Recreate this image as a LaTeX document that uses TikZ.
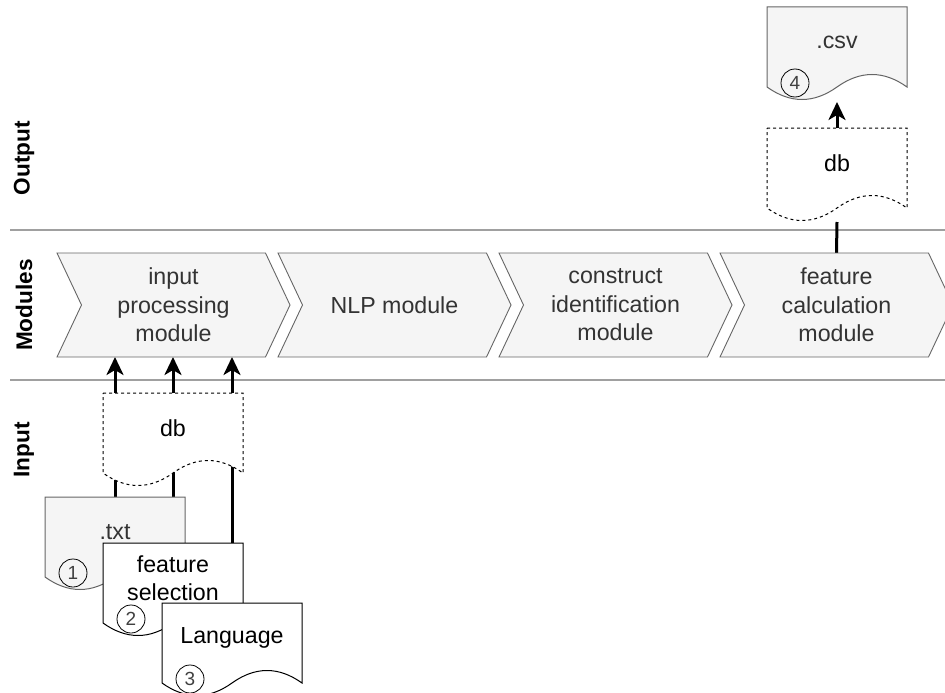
\documentclass[tikz,border=0pt]{standalone}
\usepackage{fontspec}
\setmainfont{Liberation Sans}
\usetikzlibrary{arrows.meta,calc,backgrounds}
\definecolor{boxfill}{HTML}{F5F5F5}
\definecolor{boxline}{HTML}{666666}
\definecolor{txtgray}{HTML}{333333}
\definecolor{sepgray}{HTML}{A0A0A0}

\makeatletter
\pgfdeclareshape{docshape}{%
  \inheritsavedanchors[from=rectangle]%
  \inheritanchorborder[from=rectangle]%
  \inheritanchor[from=rectangle]{center}%
  \inheritanchor[from=rectangle]{north}%
  \inheritanchor[from=rectangle]{south}%
  \inheritanchor[from=rectangle]{east}%
  \inheritanchor[from=rectangle]{west}%
  \inheritanchor[from=rectangle]{north east}%
  \inheritanchor[from=rectangle]{north west}%
  \inheritanchor[from=rectangle]{south east}%
  \inheritanchor[from=rectangle]{south west}%
  \backgroundpath{%
    \southwest \edef\dxa{\the\pgf@x}\edef\dya{\the\pgf@y}%
    \northeast \edef\dxb{\the\pgf@x}\edef\dyb{\the\pgf@y}%
    \pgfmathsetlengthmacro\dyw{\dya-10pt}%
    \pgfmathsetlengthmacro\dxm{(\dxa+\dxb)/2}%
    \pgfmathsetlengthmacro\dxr{\dxa+0.75*(\dxb-\dxa)}%
    \pgfmathsetlengthmacro\dxl{\dxa+0.25*(\dxb-\dxa)}%
    \pgfmathsetlengthmacro\dyu{\dyw+25pt}%
    \pgfmathsetlengthmacro\dyd{\dyw-25pt}%
    \pgfpathmoveto{\pgfqpoint{\dxa}{\dyb}}%
    \pgfpathlineto{\pgfqpoint{\dxb}{\dyb}}%
    \pgfpathlineto{\pgfqpoint{\dxb}{\dyw}}%
    \pgfpathquadraticcurveto{\pgfqpoint{\dxr}{\dyu}}{\pgfqpoint{\dxm}{\dyw}}%
    \pgfpathquadraticcurveto{\pgfqpoint{\dxl}{\dyd}}{\pgfqpoint{\dxa}{\dyw}}%
    \pgfpathclose
  }%
}
\pgfdeclareshape{chevshape}{%
  \inheritsavedanchors[from=rectangle]%
  \inheritanchorborder[from=rectangle]%
  \inheritanchor[from=rectangle]{center}%
  \inheritanchor[from=rectangle]{north}%
  \inheritanchor[from=rectangle]{south}%
  \inheritanchor[from=rectangle]{east}%
  \inheritanchor[from=rectangle]{west}%
  \inheritanchor[from=rectangle]{north east}%
  \inheritanchor[from=rectangle]{north west}%
  \inheritanchor[from=rectangle]{south east}%
  \inheritanchor[from=rectangle]{south west}%
  \backgroundpath{%
    \southwest \edef\cxa{\the\pgf@x}\edef\cya{\the\pgf@y}%
    \northeast \edef\cxb{\the\pgf@x}\edef\cyb{\the\pgf@y}%
    \pgfmathsetlengthmacro\cym{(\cya+\cyb)/2}%
    \pgfmathsetlengthmacro\cxd{\cxb-24.5pt}%
    \pgfmathsetlengthmacro\cxe{\cxa+24.5pt}%
    \pgfpathmoveto{\pgfqpoint{\cxa}{\cyb}}%
    \pgfpathlineto{\pgfqpoint{\cxd}{\cyb}}%
    \pgfpathlineto{\pgfqpoint{\cxb}{\cym}}%
    \pgfpathlineto{\pgfqpoint{\cxd}{\cya}}%
    \pgfpathlineto{\pgfqpoint{\cxa}{\cya}}%
    \pgfpathlineto{\pgfqpoint{\cxe}{\cym}}%
    \pgfpathclose
  }%
}
\makeatother

\tikzset{
  module/.style={shape=chevshape, draw=boxline, fill=boxfill, line width=0.9pt,
    minimum width=233pt, minimum height=104pt, inner sep=0pt, outer sep=0pt,
    align=center, text=txtgray, font=\fontsize{23.2}{28.5}\selectfont},
  docbase/.style={shape=docshape, minimum width=140pt, minimum height=70pt,
    inner sep=0pt, outer sep=0pt, align=center,
    font=\fontsize{23.2}{28}\selectfont, line width=1pt},
  graydoc/.style={docbase, draw=boxline, fill=boxfill, text=txtgray},
  plaindoc/.style={docbase, draw=black, fill=white, text=black},
  dbdoc/.style={docbase, draw=black, fill=white, text=black, dash pattern=on 3pt off 3pt},
  numcirc/.style={circle, draw=black, line width=0.8pt, minimum size=28pt,
    inner sep=0pt, font=\fontsize{19}{19}\selectfont, text=black!75},
  lanelabel/.style={rotate=90, font=\bfseries\fontsize{22.6}{26}\selectfont},
  sepline/.style={draw=sepgray, line width=1.3pt},
  flow/.style={line width=3pt, -{Stealth[length=18pt,width=17pt,inset=5pt]}},
  flowplain/.style={line width=3pt},
}

\begin{document}
\begin{tikzpicture}[x=1pt,y=-1pt]
\useasboundingbox (0,0) rectangle (945,693);

% lane labels
\node[lanelabel] (lout) at (24,158) {Output};
\node[lanelabel] (lmod) at (24,305) {Modules};
\node[lanelabel] (lin)  at (24,450) {Input};

% modules
\node[module] (m1) at (173.5,305) {input\\processing\\module};
\node[module] (m2) at (394.5,305) {NLP module};
\node[module] (m3) at (615.5,305) {construct\\identification\\module};
\node[module] (m4) at (836.5,305) {feature\\calculation\\module};

% input documents
\node[dbdoc] (dbin) at (173,428) {db};
\node[graydoc] (txt) at (115,532) {.txt};
\node[numcirc] (c1) at ($(txt.south west)+(28,6)$) {1};
\node[plaindoc] (feat) at (173,578) {feature\\selection};
\node[numcirc] (c2) at ($(feat.south west)+(28,6)$) {2};
\node[plaindoc] (lang) at (232,638) {Language};
\node[numcirc] (c3) at ($(lang.south west)+(28,6)$) {3};

% output documents
\node[graydoc] (csv) at (837,42) {.csv};
\node[numcirc] (c4) at ($(csv.south west)+(28,6)$) {4};
\node[dbdoc] (dbout) at (837,163) {db};

\begin{scope}[on background layer]
  \coordinate (s1a) at (10,230);
  \coordinate (s1b) at (945,230);
  \coordinate (s2a) at (10,380);
  \coordinate (s2b) at (945,380);
  \draw[sepline] (s1a) -- (s1b);
  \draw[sepline] (s2a) -- (s2b);
  \draw[flow] (txt.north) -- (txt.north |- m1.south);
  \draw[flow] (feat.north) -- (feat.north |- m1.south);
  \draw[flow] (lang.north) -- (lang.north |- m1.south);
  \draw[flowplain] (m4.north) -- ($(dbout.south)+(0,24)$);
  \draw[flow] (dbout.north) -- ($(csv.south)+(0,25)$);
\end{scope}
\end{tikzpicture}
\end{document}
